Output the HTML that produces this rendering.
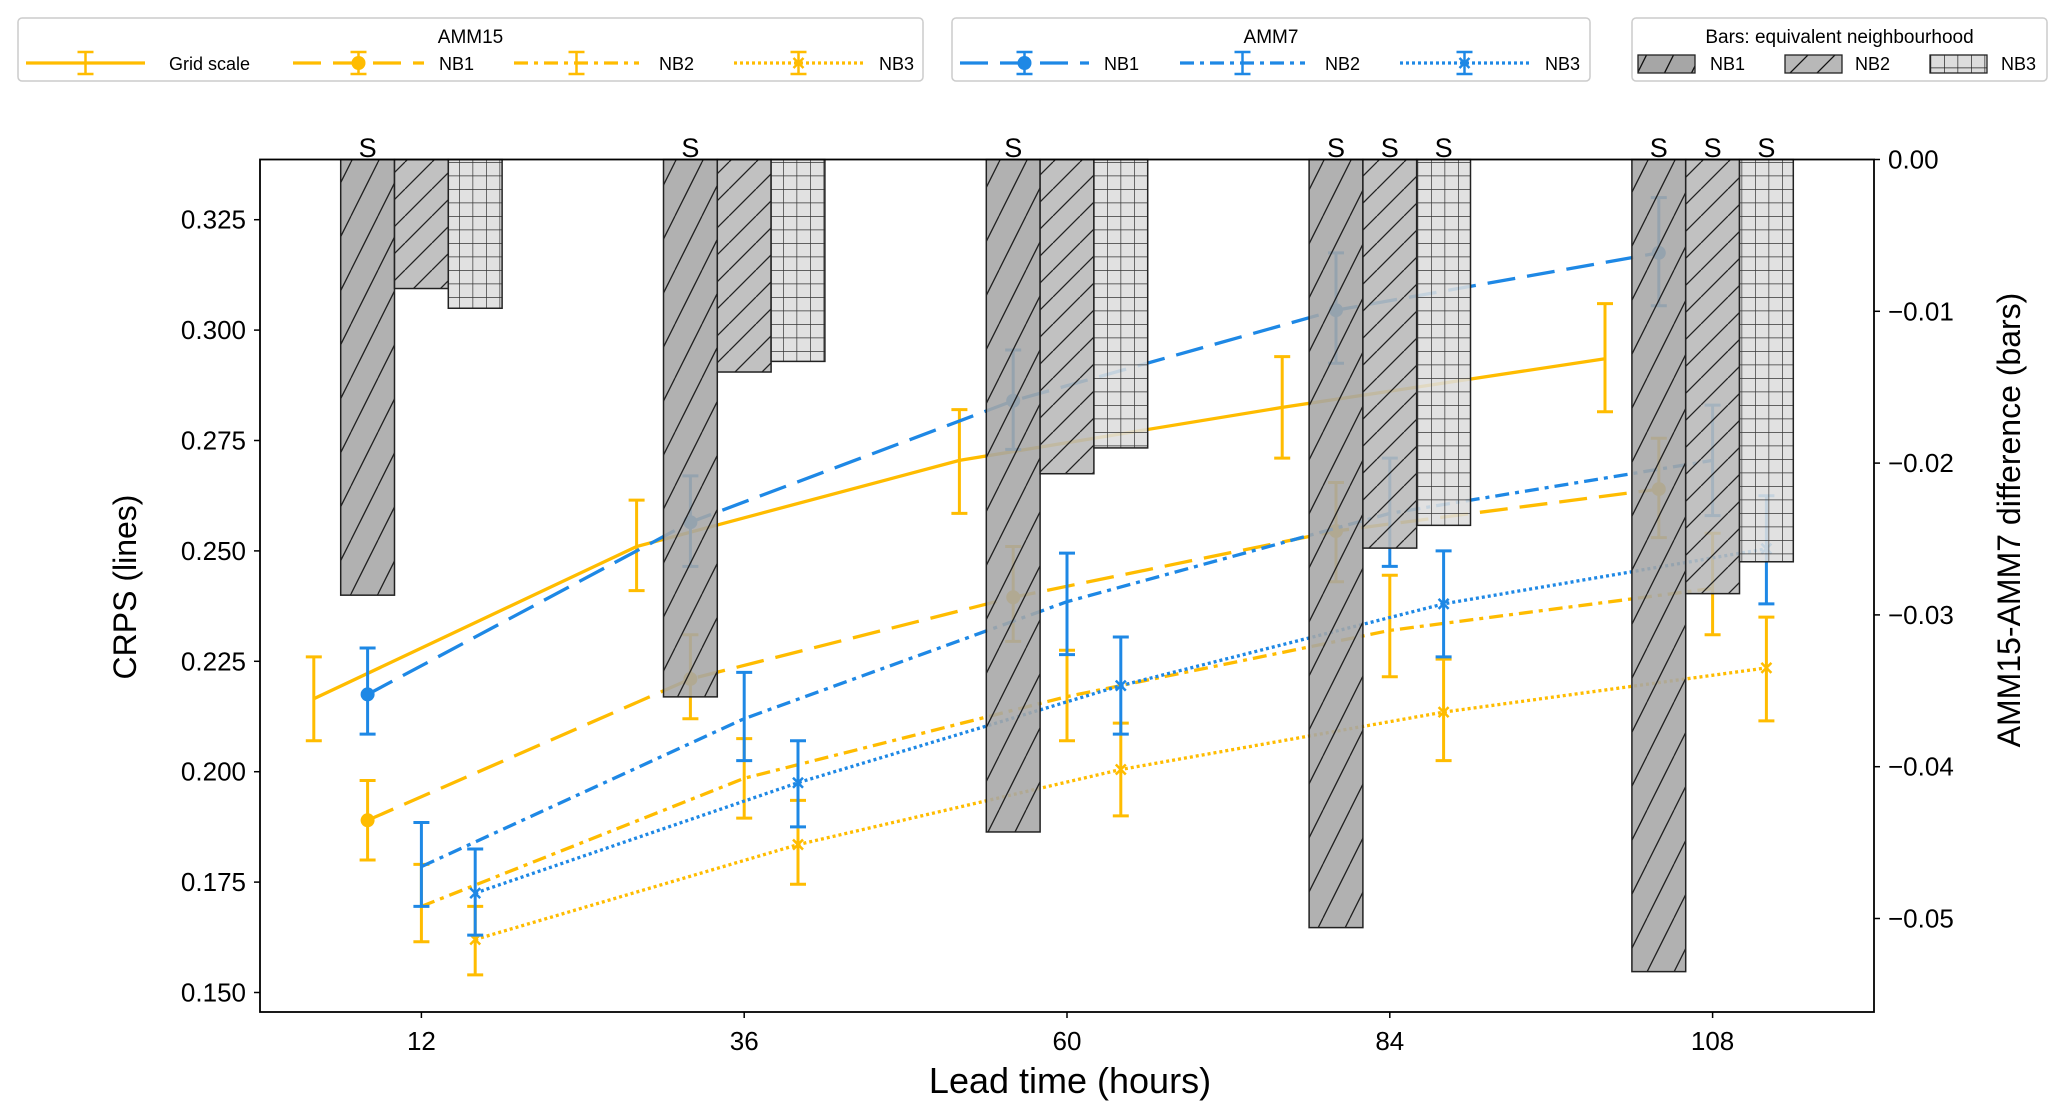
<!DOCTYPE html>
<html><head><meta charset="utf-8"><style>
html,body{margin:0;padding:0;background:#fff;}
svg{display:block;font-family:"Liberation Sans","DejaVu Sans",sans-serif;}
</style></head><body>
<svg id="chart" width="2067" height="1118" viewBox="0 0 2067 1118" xmlns="http://www.w3.org/2000/svg">
<defs>
<pattern id="h1" patternUnits="userSpaceOnUse" width="27" height="54"><line x1="0" y1="54" x2="27" y2="0" stroke="#111" stroke-width="1.3"/><line x1="-27" y1="54" x2="0" y2="0" stroke="#111" stroke-width="1.3"/><line x1="27" y1="54" x2="54" y2="0" stroke="#111" stroke-width="1.3"/></pattern>
<pattern id="h2" patternUnits="userSpaceOnUse" width="27" height="27"><line x1="0" y1="27" x2="27" y2="0" stroke="#111" stroke-width="1.3"/><line x1="-27" y1="27" x2="0" y2="0" stroke="#111" stroke-width="1.3"/><line x1="27" y1="27" x2="54" y2="0" stroke="#111" stroke-width="1.3"/></pattern>
<pattern id="h3" patternUnits="userSpaceOnUse" width="13.5" height="13.5"><path d="M0 0H13.5M0 0V13.5" stroke="#222" stroke-width="1.4" fill="none"/></pattern>
</defs>
<g id="plot"></g>
</svg>
<script>
const leads = [12, 36, 60, 84, 108];
const gridScale = [0.2165, 0.251, 0.2705, 0.2825, 0.2935];
const gridScaleLo = [0.207, 0.241, 0.2585, 0.271, 0.2815];
const gridScaleHi = [0.226, 0.2615, 0.282, 0.294, 0.306];
const a15nb1 = [0.189, 0.221, 0.2395, 0.2545, 0.264];
const a15nb1Lo = [0.180, 0.212, 0.2295, 0.243, 0.253];
const a15nb1Hi = [0.198, 0.231, 0.251, 0.2655, 0.2755];
const a15nb2 = [0.1695, 0.1985, 0.217, 0.232, 0.2415];
const a15nb2Lo = [0.1615, 0.1895, 0.207, 0.2215, 0.231];
const a15nb2Hi = [0.179, 0.2075, 0.2275, 0.2445, 0.254];
const a15nb3 = [0.162, 0.1835, 0.2005, 0.2135, 0.2235];
const a15nb3Lo = [0.154, 0.1745, 0.190, 0.2025, 0.2115];
const a15nb3Hi = [0.1695, 0.1935, 0.211, 0.2255, 0.235];
const a7nb1 = [0.2175, 0.2565, 0.284, 0.3045, 0.3175];
const a7nb1Lo = [0.2085, 0.2465, 0.273, 0.2925, 0.3055];
const a7nb1Hi = [0.228, 0.267, 0.2955, 0.3175, 0.330];
const a7nb2 = [0.1785, 0.212, 0.2385, 0.2585, 0.2705];
const a7nb2Lo = [0.1695, 0.2025, 0.2265, 0.2465, 0.258];
const a7nb2Hi = [0.1885, 0.2225, 0.2495, 0.271, 0.283];
const a7nb3 = [0.1725, 0.1975, 0.2195, 0.238, 0.2505];
const a7nb3Lo = [0.163, 0.1875, 0.2085, 0.226, 0.238];
const a7nb3Hi = [0.1825, 0.207, 0.2305, 0.250, 0.2625];
const barNB1 = [-0.0287, -0.0354, -0.0443, -0.0506, -0.0535];
const barNB2 = [-0.0085, -0.0140, -0.0207, -0.0256, -0.0286];
const barNB3 = [-0.0098, -0.0133, -0.0190, -0.0241, -0.0265];
const sigNB1 = [true, true, true, true, true];
const sigNB2 = [false, false, false, true, true];
const sigNB3 = [false, false, false, true, true];
const yTicks = [0.150, 0.175, 0.200, 0.225, 0.250, 0.275, 0.300, 0.325];
const y2Ticks = [0.00, -0.01, -0.02, -0.03, -0.04, -0.05];

const L=260, R=1874, T=159.5, B=1012;
const X = h => L + (h - 0) / 120 * (R - L);
const Y = v => 992.5 - (v - 0.15) / 0.025 * 110.4;
const Y2 = v => 159.5 + (v / -0.01) * 151.8;
const NS='http://www.w3.org/2000/svg';
const g=document.getElementById('plot');
function mk(tag, attrs, parent){const e=document.createElementNS(NS,tag);for(const k in attrs)e.setAttribute(k,attrs[k]);(parent||g).appendChild(e);return e;}
function txt(s, attrs, parent){const e=mk('text',attrs,parent);e.textContent=s;return e;}

const YEL='#FFBC00', BLU='#1E88E5';
const series=[
 {name:'amm15-grid-scale',vals:gridScale,lo:gridScaleLo,hi:gridScaleHi,off:-8,col:YEL,dash:'none',mk:'none'},
 {name:'amm15-nb1',vals:a15nb1,lo:a15nb1Lo,hi:a15nb1Hi,off:-4,col:YEL,dash:'28,12',mk:'o'},
 {name:'amm15-nb2',vals:a15nb2,lo:a15nb2Lo,hi:a15nb2Hi,off:0,col:YEL,dash:'14,6,4,6',mk:'+'},
 {name:'amm15-nb3',vals:a15nb3,lo:a15nb3Lo,hi:a15nb3Hi,off:4,col:YEL,dash:'3,3',mk:'x'},
 {name:'amm7-nb1',vals:a7nb1,lo:a7nb1Lo,hi:a7nb1Hi,off:-4,col:BLU,dash:'28,12',mk:'o'},
 {name:'amm7-nb2',vals:a7nb2,lo:a7nb2Lo,hi:a7nb2Hi,off:0,col:BLU,dash:'14,6,4,6',mk:'+'},
 {name:'amm7-nb3',vals:a7nb3,lo:a7nb3Lo,hi:a7nb3Hi,off:4,col:BLU,dash:'3,3',mk:'x'}
];
for(const s of series){
  const sg=mk('g',{});
  
  
  const pts=s.vals.map((v,i)=>X(leads[i]+s.off).toFixed(1)+','+Y(v).toFixed(1)).join(' ');
  const pl=mk('polyline',{points:pts,fill:'none',stroke:s.col,'stroke-width':3.3,'stroke-dasharray':s.dash},sg);
  
  
  s.vals.forEach((v,i)=>{
    const x=X(leads[i]+s.off);
    const eb=mk('path',{d:`M${x} ${Y(s.lo[i])}V${Y(s.hi[i])}M${x-8} ${Y(s.lo[i])}H${x+8}M${x-8} ${Y(s.hi[i])}H${x+8}`,stroke:s.col,'stroke-width':3,fill:'none'},sg);
    
    
    const y=Y(v);
    if(s.mk==='o'){const c=mk('circle',{cx:x,cy:y,r:7,fill:s.col},sg);}
    if(s.mk==='x'){const c=mk('path',{d:`M${x-5} ${y-5}L${x+5} ${y+5}M${x-5} ${y+5}L${x+5} ${y-5}`,stroke:s.col,'stroke-width':2.5},sg);}
  });
}
// bars
const barSets=[{vals:barNB1,off:-4,fill:'#a6a6a6',pat:'h1',sig:sigNB1,n:'nb1'},{vals:barNB2,off:0,fill:'#b8b8b8',pat:'h2',sig:sigNB2,n:'nb2'},{vals:barNB3,off:4,fill:'#dddddd',pat:'h3',sig:sigNB3,n:'nb3'}];
for(const b of barSets){
  b.vals.forEach((v,i)=>{
    const x0=X(leads[i]+b.off-2), x1=X(leads[i]+b.off+2);
    const bg=mk('g',{});
    
    
    mk('rect',{x:x0,y:Y2(0),width:x1-x0,height:Y2(v)-Y2(0),fill:b.fill,'fill-opacity':0.88},bg);
    mk('rect',{x:x0,y:Y2(0),width:x1-x0,height:Y2(v)-Y2(0),fill:'url(#'+b.pat+')','fill-opacity':0.9},bg);
    mk('rect',{x:x0,y:Y2(0),width:x1-x0,height:Y2(v)-Y2(0),fill:'none',stroke:'#222','stroke-width':1.5},bg);
    if(b.sig[i]){const t=txt('S',{x:(x0+x1)/2,y:157,'text-anchor':'middle','font-size':27});}
  });
}
// axes
const fr=mk('rect',{x:L,y:T,width:R-L,height:B-T,fill:'none',stroke:'#000','stroke-width':1.8});


yTicks.forEach(v=>{
  mk('line',{x1:L-6,x2:L,y1:Y(v),y2:Y(v),stroke:'#000','stroke-width':1.5});
  const t=txt(v.toFixed(3),{x:L-14,y:Y(v)+9,'text-anchor':'end','font-size':26});
  
  
});
y2Ticks.forEach(v=>{
  mk('line',{x1:R,x2:R+6,y1:Y2(v),y2:Y2(v),stroke:'#000','stroke-width':1.5});
  const t=txt((v<0?'\u2212':'')+Math.abs(v).toFixed(2),{x:R+14,y:Y2(v)+9,'font-size':26});
  
  
});
leads.forEach(h=>{
  mk('line',{x1:X(h),x2:X(h),y1:B,y2:B+6,stroke:'#000','stroke-width':1.5});
  const t=txt(String(h),{x:X(h),y:B+38,'text-anchor':'middle','font-size':26});
  
  
});
let t=txt('Lead  time (hours)',{x:1070,y:1093,'text-anchor':'middle','font-size':36});


t=txt('CRPS (lines)',{x:0,y:0,'text-anchor':'middle','font-size':32,transform:'translate(136,587) rotate(-90)'});


t=txt('AMM15-AMM7 difference (bars)',{x:0,y:0,'text-anchor':'middle','font-size':32,transform:'translate(2020,520) rotate(-90)'});



// legends
function legBox(x,w,title,name){
  const lg=mk('g',{});
  
  
  mk('rect',{x:x,y:18,width:w,height:63,rx:4,fill:'#fff',stroke:'#ccc','stroke-width':1.5},lg);
  txt(title,{x:x+w/2,y:43,'text-anchor':'middle','font-size':19},lg);
  return lg;
}
function legLine(lg,x0,x1,col,dash,m,label,lx){
  const y=63, xm=(x0+x1)/2;
  mk('line',{x1:x0,x2:x1,y1:y,y2:y,stroke:col,'stroke-width':3.3,'stroke-dasharray':dash},lg);
  mk('path',{d:`M${xm} ${y-11}V${y+11}M${xm-8} ${y-11}H${xm+8}M${xm-8} ${y+11}H${xm+8}`,stroke:col,'stroke-width':2.5},lg);
  if(m==='o')mk('circle',{cx:xm,cy:y,r:7,fill:col},lg);
  if(m==='x')mk('path',{d:`M${xm-5} ${y-5}L${xm+5} ${y+5}M${xm-5} ${y+5}L${xm+5} ${y-5}`,stroke:col,'stroke-width':2.5},lg);
  const t=txt(label,{x:lx,y:y+7,'font-size':18},lg);
  
  
}
let lg=legBox(18,905,'AMM15','legend-amm15');
legLine(lg,26,145,YEL,'none','none','Grid scale',169);
legLine(lg,293,424,YEL,'28,12','o','NB1',439);
legLine(lg,514,639,YEL,'14,6,4,6','+','NB2',659);
legLine(lg,734,863,YEL,'3,3','x','NB3',879);
lg=legBox(952,638,'AMM7','legend-amm7');
legLine(lg,960,1089,BLU,'28,12','o','NB1',1104);
legLine(lg,1180,1305,BLU,'14,6,4,6','+','NB2',1325);
legLine(lg,1400,1529,BLU,'3,3','x','NB3',1545);
lg=legBox(1632,415,'Bars: equivalent neighbourhood','legend-bars');
[[1638,'#a6a6a6','h1','NB1',1710],[1785,'#b8b8b8','h2','NB2',1855],[1930,'#dddddd','h3','NB3',2001]].forEach(p=>{
  mk('rect',{x:p[0],y:55,width:57,height:18,fill:p[1]},lg);
  mk('rect',{x:p[0],y:55,width:57,height:18,fill:'url(#'+p[2]+')',stroke:'#222','stroke-width':1.3},lg);
  const t=txt(p[3],{x:p[4],y:70,'font-size':18},lg);
  
  
});
</script>
</body></html>
